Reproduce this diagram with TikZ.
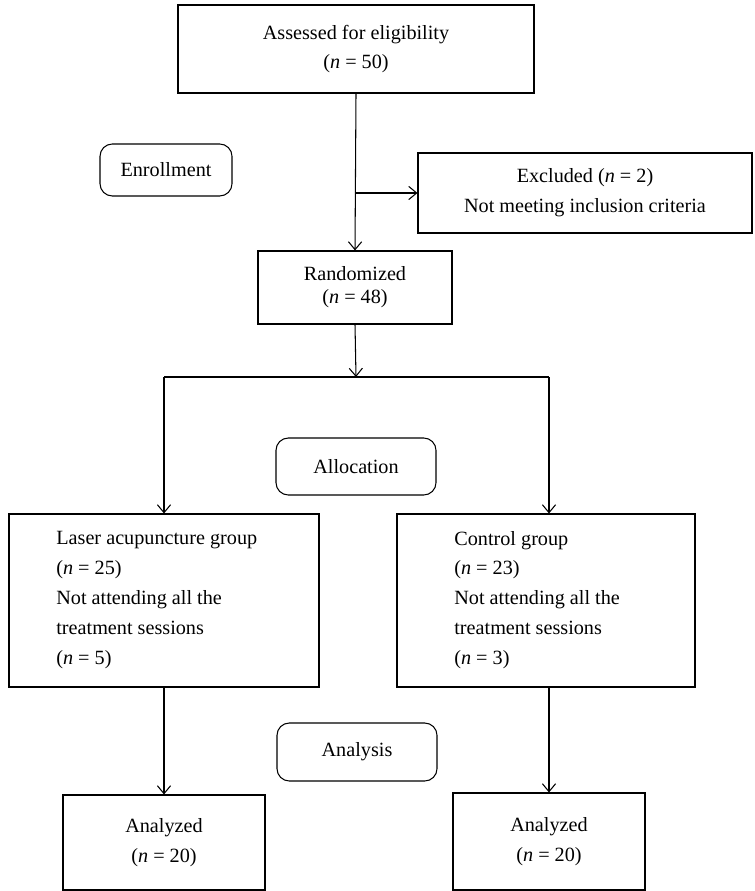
\documentclass[tikz,border=0pt]{standalone}
\usepackage{fontspec}
\setmainfont{Liberation Serif}
\usetikzlibrary{positioning,arrows.meta}

\begin{document}
\begin{tikzpicture}[x=0.02cm,y=-0.02cm,
        box/.style={draw, line width=0.6pt, inner sep=0pt, align=center,
            font=\fontsize{11.5}{17}\selectfont},
        stage/.style={box, rounded corners=7pt},
        grouptext/.style={anchor=west, inner sep=0pt, align=left,
            font=\fontsize{11.5}{17}\selectfont},
        flow/.style={line width=0.6pt, -{Straight Barb[length=4.5pt,width=7.5pt]}}]
        \useasboundingbox (0,0) rectangle (754,891);
        % enrollment
        \node[box, minimum width=356*0.02cm, minimum height=88*0.02cm,
            font=\fontsize{11.5}{16.5}\selectfont] (elig) at (356,49)
            {Assessed for eligibility\\(\textit{n} = 50)};
        \node[stage, minimum width=132*0.02cm, minimum height=52*0.02cm] (enroll) at (166,170) {Enrollment};
        \node[box, minimum width=334*0.02cm, minimum height=80*0.02cm] (excl) at (585,193)
            {Excluded (\textit{n} = 2)\\Not meeting inclusion criteria};
        \node[box, minimum width=194*0.02cm, minimum height=73*0.02cm,
            font=\fontsize{11.5}{13}\selectfont] (rand) at (355,287.5)
            {Randomized\\(\textit{n} = 48)};
        % allocation
        \node[stage, minimum width=160*0.02cm, minimum height=57*0.02cm] (alloc) at (356,466.5) {Allocation};
        \node[box, minimum width=310*0.02cm, minimum height=173*0.02cm] (laser) at (164,600.5) {};
        \node[grouptext] (lasertxt) at (56,600)
            {Laser acupuncture group\\(\textit{n} = 25)\\Not attending all the\\treatment sessions\\(\textit{n} = 5)};
        \node[box, minimum width=298*0.02cm, minimum height=173*0.02cm] (ctrl) at (546,600.5) {};
        \node[grouptext] (ctrltxt) at (454,600)
            {Control group\\(\textit{n} = 23)\\Not attending all the\\treatment sessions\\(\textit{n} = 3)};
        % analysis
        \node[stage, minimum width=160*0.02cm, minimum height=58*0.02cm] (analysis) at (357,752) {Analysis};
        \node[box, minimum width=202*0.02cm, minimum height=95*0.02cm] (anlaser) at (164,842.5)
            {Analyzed\\(\textit{n} = 20)};
        \node[box, minimum width=192*0.02cm, minimum height=97*0.02cm] (anctrl) at (549,841.5)
            {Analyzed\\(\textit{n} = 20)};

        \coordinate (branch) at (elig.south |- excl.west);
        \coordinate (split) at (356,377);
        \coordinate (splitl) at (164,377);
        \coordinate (splitr) at (549,377);
        \draw[flow] (elig.south) -- (rand.north);
        \draw[flow] (branch) -- (excl.west);
        \draw[flow] (rand.south) -- (split);
        \draw[line width=0.6pt] (splitl) -- (splitr);
        \draw[flow] (splitl) -- (laser.north);
        \draw[flow] (splitr) -- (splitr |- ctrl.north);
        \draw[flow] (laser.south) -- (anlaser.north);
        \draw[flow] (splitr |- ctrl.south) -- (anctrl.north);
    \end{tikzpicture}
\end{document}
